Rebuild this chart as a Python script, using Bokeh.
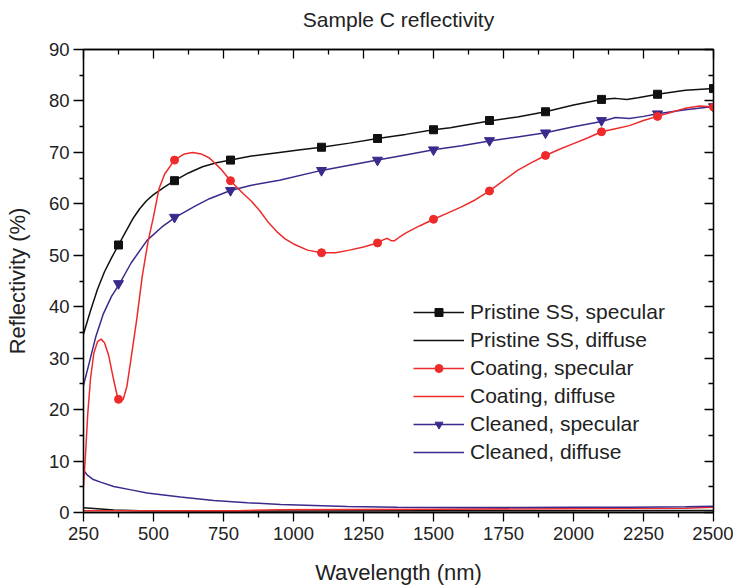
from bokeh.plotting import figure
from bokeh.models import Range1d, LinearAxis, FixedTicker, Legend, LegendItem
from bokeh.embed import file_html
from bokeh.resources import INLINE

# ---------------- data ----------------
title_text = "Sample C reflectivity"

pristine_spec_wl = [250, 275, 300, 325, 350, 375, 400, 425, 450, 475, 500, 540, 575, 625, 675, 725, 775,
                    850, 950, 1025, 1100, 1200, 1300, 1400, 1500, 1560, 1600, 1700, 1800, 1900, 2000,
                    2100, 2150, 2190, 2230, 2300, 2400, 2500]
pristine_spec_r = [34.7, 39.2, 43.4, 46.8, 49.5, 52.0, 54.5, 57.0, 59.0, 60.6, 61.8, 63.3, 64.5, 66.0, 67.2,
                   68.0, 68.5, 69.3, 70.0, 70.5, 71.0, 71.8, 72.7, 73.5, 74.4, 74.8, 75.2, 76.1, 76.9,
                   77.9, 79.2, 80.3, 80.5, 80.3, 80.6, 81.3, 82.1, 82.4]

coating_spec_wl = [250, 258, 265, 275, 287, 300, 313, 325, 340, 358, 372, 382, 392, 405, 420, 440, 460,
                   480, 500, 520, 540, 575, 610, 640, 670, 700, 740, 775, 820, 850, 880, 910, 940, 970,
                   1000, 1050, 1100, 1150, 1200, 1250, 1300, 1320, 1335, 1350, 1360, 1380, 1400, 1450,
                   1500, 1550, 1600, 1650, 1700, 1750, 1800, 1850, 1900, 1950, 2000, 2050, 2100, 2150,
                   2200, 2250, 2300, 2350, 2400, 2450, 2500]
coating_spec_r = [4.9, 12.0, 19.0, 26.0, 31.0, 33.2, 33.7, 33.0, 30.5, 25.7, 22.3, 21.5, 22.0, 24.5, 30.0,
                  37.5, 46.0, 52.5, 57.5, 63.0, 65.8, 68.5, 69.7, 70.0, 69.7, 68.9, 66.8, 64.5, 62.0,
                  60.5, 58.6, 56.4, 54.6, 53.2, 52.2, 51.0, 50.5, 50.5, 51.0, 51.6, 52.4, 53.0, 53.3,
                  52.8, 52.8, 53.6, 54.3, 55.7, 57.0, 58.2, 59.4, 60.8, 62.5, 64.5, 66.5, 68.0, 69.4,
                  70.6, 71.7, 72.8, 74.0, 74.6, 75.2, 76.2, 77.0, 77.8, 78.6, 79.0, 78.8]

cleaned_spec_wl = [250, 270, 293, 320, 350, 379, 420, 477, 530, 579, 650, 700, 775, 850, 950, 1100, 1200,
                   1300, 1400, 1500, 1600, 1700, 1800, 1900, 2000, 2100, 2150, 2200, 2250, 2300, 2400, 2500]
cleaned_spec_r = [24.7, 29.0, 34.0, 38.5, 42.0, 44.5, 48.5, 52.9, 55.5, 57.4, 59.6, 61.0, 62.6, 63.6, 64.6,
                  66.5, 67.5, 68.5, 69.5, 70.5, 71.3, 72.2, 73.0, 73.8, 75.0, 76.0, 76.8, 76.6, 77.0,
                  77.5, 78.3, 78.9]

pristine_diff_wl = [250, 300, 358, 450, 700, 1000, 1500, 2000, 2500]
pristine_diff_r = [0.9, 0.75, 0.5, 0.35, 0.3, 0.3, 0.35, 0.35, 0.4]

coating_diff_wl = [250, 800, 950, 1200, 1500, 2000, 2200, 2400, 2500]
coating_diff_r = [0.35, 0.35, 0.55, 0.6, 0.65, 0.75, 0.8, 0.85, 1.0]

cleaned_diff_wl = [250, 265, 285, 311, 358, 420, 477, 596, 715, 835, 954, 1073, 1192, 1370, 1600, 1800,
                   2000, 2200, 2400, 2500]
cleaned_diff_r = [8.2, 7.2, 6.4, 5.9, 5.05, 4.4, 3.8, 3.0, 2.35, 1.9, 1.55, 1.36, 1.17, 1.04, 0.95, 0.95,
                  1.0, 1.0, 1.1, 1.2]

marker_wl = [375, 575, 775, 1100, 1300, 1500, 1700, 1900, 2100, 2300, 2500]
pristine_mk = [52.0, 64.5, 68.5, 71.0, 72.7, 74.4, 76.2, 77.9, 80.3, 81.3, 82.4]
coating_mk = [22.0, 68.5, 64.5, 50.5, 52.4, 57.0, 62.5, 69.4, 74.0, 77.0, 78.8]
cleaned_mk = [44.5, 57.4, 62.6, 66.5, 68.5, 70.5, 72.3, 73.8, 76.2, 77.5, 78.9]

x_major = [250, 500, 750, 1000, 1250, 1500, 1750, 2000, 2250, 2500]
x_minor = [375, 625, 875, 1125, 1375, 1625, 1875, 2125, 2375]
y_major = [0, 10, 20, 30, 40, 50, 60, 70, 80, 90]
y_minor = [5, 15, 25, 35, 45, 55, 65, 75, 85]

labels = ["Pristine SS, specular", "Pristine SS, diffuse", "Coating, specular",
          "Coating, diffuse", "Cleaned, specular", "Cleaned, diffuse"]

# ---------------- style ----------------
FONT = "Liberation Sans"
TXT = "#222222"
BLACK = "#111111"
RED = "#ee2a2a"
PURPLE = "#3b2a8c"
LW = 1.5

p = figure(width=733, height=588, output_backend="svg", toolbar_location=None, title=None,
           x_range=Range1d(250, 2500), y_range=Range1d(0, 90),
           min_border_left=83, min_border_right=20, min_border_top=49, min_border_bottom=76,
           x_axis_label="Wavelength (nm)", y_axis_label="Reflectivity (%)")
p.grid.visible = False
p.outline_line_color = "black"
p.outline_line_width = 1.3
p.background_fill_color = "white"
p.border_fill_color = "white"

xt = FixedTicker(ticks=x_major, minor_ticks=x_minor)
yt = FixedTicker(ticks=y_major, minor_ticks=y_minor)

for ax in p.xaxis:
    ax.ticker = xt
    ax.major_tick_out = 9
    ax.major_tick_in = 0
    ax.minor_tick_out = 5
    ax.minor_tick_in = 0
for ax in p.yaxis:
    ax.ticker = yt
    ax.major_tick_out = 10
    ax.major_tick_in = 0
    ax.minor_tick_out = 4
    ax.minor_tick_in = 0

for ax in list(p.xaxis) + list(p.yaxis):
    ax.axis_line_width = 1.3
    ax.major_tick_line_width = 1.3
    ax.minor_tick_line_width = 1.3
    ax.axis_line_color = "black"
    ax.major_tick_line_color = "black"
    ax.minor_tick_line_color = "black"
    ax.major_label_text_font = FONT
    ax.major_label_text_font_size = "18.5px"
    ax.major_label_text_color = TXT
    ax.axis_label_text_font = FONT
    ax.axis_label_text_font_size = "22px"
    ax.axis_label_text_font_style = "normal"
    ax.axis_label_text_color = TXT
p.xaxis.major_label_standoff = 5
p.xaxis.axis_label_standoff = 17
p.yaxis.major_label_standoff = 4
p.yaxis.axis_label_standoff = 16


def inner_axis(ticks, minor):
    return LinearAxis(ticker=FixedTicker(ticks=ticks, minor_ticks=minor),
                      major_label_overrides={t: "" for t in ticks},
                      major_label_text_font_size="6px", major_label_standoff=0,
                      major_tick_out=0, major_tick_in=9, minor_tick_out=0, minor_tick_in=5,
                      axis_line_width=1.3, major_tick_line_width=1.3, minor_tick_line_width=1.3,
                      axis_line_color="black", major_tick_line_color="black",
                      minor_tick_line_color="black")


top_ax = inner_axis(x_major, x_minor)
# the chart title sits centred above the frame as the top axis' label
top_ax.axis_label = title_text
top_ax.axis_label_text_font = FONT
top_ax.axis_label_text_font_size = "21px"
top_ax.axis_label_text_font_style = "normal"
top_ax.axis_label_text_color = TXT
top_ax.axis_label_standoff = 19
p.add_layout(top_ax, "above")
p.add_layout(inner_axis(y_major, y_minor), "right")

# ---------------- glyphs ----------------
r_pd = p.line(pristine_diff_wl, pristine_diff_r, color=BLACK, line_width=LW)
r_cd = p.line(coating_diff_wl, coating_diff_r, color=RED, line_width=LW)
r_kd = p.line(cleaned_diff_wl, cleaned_diff_r, color=PURPLE, line_width=LW)

r_ps = p.line(pristine_spec_wl, pristine_spec_r, color=BLACK, line_width=LW)
m_ps = p.scatter(marker_wl, pristine_mk, marker="square", size=8, color=BLACK)
r_ks = p.line(cleaned_spec_wl, cleaned_spec_r, color=PURPLE, line_width=LW)
m_ks = p.scatter(marker_wl, cleaned_mk, marker="inverted_triangle", size=10, color=PURPLE)
r_cs = p.line(coating_spec_wl, coating_spec_r, color=RED, line_width=LW)
m_cs = p.scatter(marker_wl, coating_mk, marker="circle", size=8, color=RED)

items = [
    LegendItem(label=labels[0], renderers=[r_ps, m_ps]),
    LegendItem(label=labels[1], renderers=[r_pd]),
    LegendItem(label=labels[2], renderers=[r_cs, m_cs]),
    LegendItem(label=labels[3], renderers=[r_cd]),
    LegendItem(label=labels[4], renderers=[r_ks, m_ks]),
    LegendItem(label=labels[5], renderers=[r_kd]),
]
legend = Legend(items=items, location=(330, 48), padding=0, margin=0, spacing=4,
                glyph_width=51, glyph_height=20, label_height=20, label_standoff=6,
                label_text_font=FONT, label_text_font_size="21px", label_text_color=TXT,
                border_line_color=None, background_fill_alpha=0)
p.add_layout(legend, "center")

open("out.html", "w").write(file_html(p, INLINE))
